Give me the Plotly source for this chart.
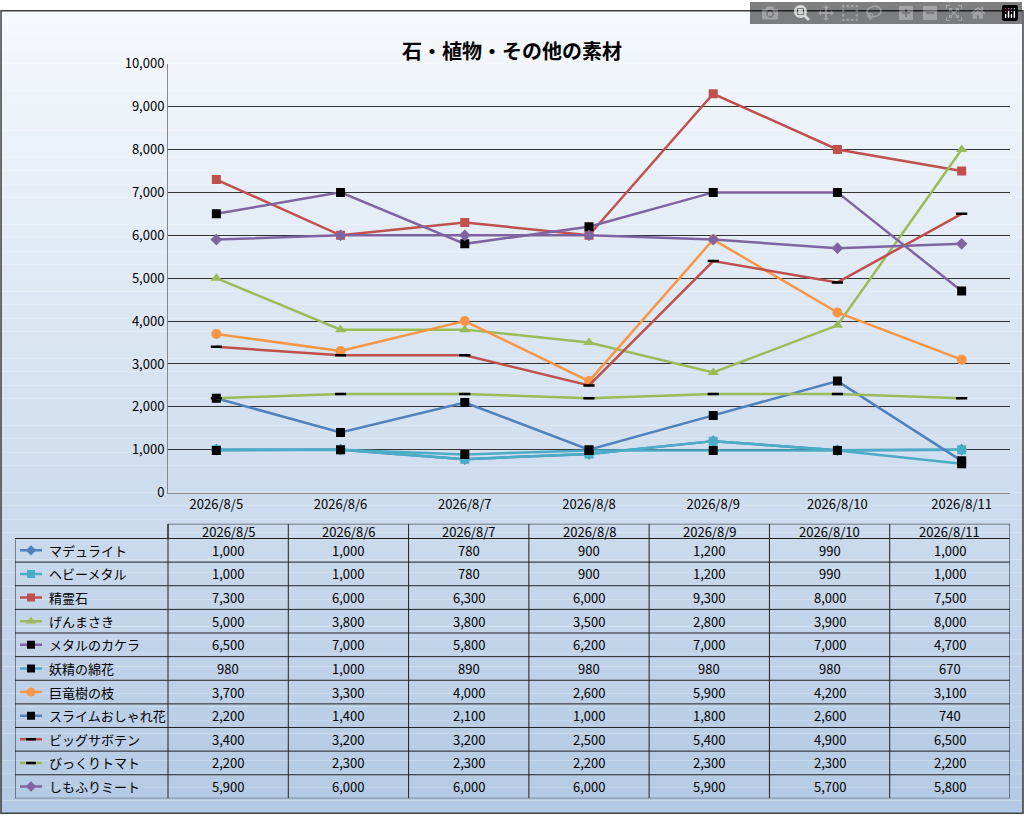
import plotly.graph_objects as go

dates = ["2026/8/5", "2026/8/6", "2026/8/7", "2026/8/8", "2026/8/9", "2026/8/10", "2026/8/11"]
names = ["マデュライト", "ヘビーメタル", "精霊石", "げんまさき", "メタルのカケラ", "妖精の綿花",
         "巨竜樹の枝", "スライムおしゃれ花", "ビッグサボテン", "びっくりトマト", "しもふりミート"]
madurite = [1000, 1000, 780, 900, 1200, 990, 1000]
heavy_metal = [1000, 1000, 780, 900, 1200, 990, 1000]
seireiseki = [7300, 6000, 6300, 6000, 9300, 8000, 7500]
genmasaki = [5000, 3800, 3800, 3500, 2800, 3900, 8000]
metal_kakera = [6500, 7000, 5800, 6200, 7000, 7000, 4700]
yousei_menka = [980, 1000, 890, 980, 980, 980, 670]
kyoryu_eda = [3700, 3300, 4000, 2600, 5900, 4200, 3100]
slime_hana = [2200, 1400, 2100, 1000, 1800, 2600, 740]
big_saboten = [3400, 3200, 3200, 2500, 5400, 4900, 6500]
bikkuri_tomato = [2200, 2300, 2300, 2200, 2300, 2300, 2200]
shimofuri = [5900, 6000, 6000, 6000, 5900, 5700, 5800]
values = [madurite, heavy_metal, seireiseki, genmasaki, metal_kakera, yousei_menka,
          kyoryu_eda, slime_hana, big_saboten, bikkuri_tomato, shimofuri]

# line colour, marker symbol, marker colour, marker size
styles = [
    ("#4F81BD", "diamond", "#4F81BD", 9),
    ("#4BACC6", "square", "#4BACC6", 9),
    ("#C0504D", "square", "#C0504D", 9),
    ("#9BBB59", "triangle-up", "#9BBB59", 10),
    ("#8064A2", "square", "#000000", 9),
    ("#4BACC6", "square", "#000000", 9),
    ("#F79646", "circle", "#F79646", 10),
    ("#4F81BD", "square", "#000000", 9),
    ("#C0504D", "line-ew", "#000000", 8),
    ("#9BBB59", "line-ew", "#000000", 8),
    ("#8064A2", "diamond", "#8064A2", 9),
]

W, H = 1024, 823
FONT = "Noto Sans CJK JP"
fig = go.Figure()

# gradient background
shapes = []
n = 60
for i in range(n):
    t = i / (n - 1)
    r = int(246 + (180 - 246) * t)
    g = int(249 + (202 - 249) * t)
    b = int(253 + (228 - 253) * t)
    shapes.append(dict(type="rect", xref="paper", yref="paper", x0=0, x1=1,
                       y0=1 - (i + 1) / n, y1=1 - i / n, line_width=0,
                       fillcolor=f"rgb({r},{g},{b})", layer="below"))
shapes.append(dict(type="rect", xref="paper", yref="paper", x0=0.001, x1=0.999,
                   y0=0.001, y1=0.999, line=dict(color="#404040", width=1.5)))

for name, vals, (lc, sym, mc, ms) in zip(names, values, styles):
    fig.add_trace(go.Scatter(
        x=dates, y=vals, name=name, mode="lines+markers",
        line=dict(color=lc, width=2.5),
        marker=dict(symbol=sym, color=mc, size=ms,
                    line=dict(color=mc, width=2.5 if sym == "line-ew" else 0)),
        showlegend=False))

# table on a pixel-unit helper axis
tx0, tx1, ty0, ty1 = 15, 1010, 526, 807
c0 = 168
cw = (tx1 - c0) / len(dates)
hh = 541
rh = (ty1 - hh) / len(names)
annos = []
tline = dict(color="#222222", width=1)
shapes.append(dict(type="rect", xref="x2", yref="y2", x0=tx0, x1=tx1, y0=hh, y1=ty1, line=tline))
shapes.append(dict(type="rect", xref="x2", yref="y2", x0=c0, x1=tx1, y0=ty0, y1=hh, line=tline))
for j in range(1, len(dates)):
    xx = c0 + j * cw
    shapes.append(dict(type="line", xref="x2", yref="y2", x0=xx, x1=xx, y0=ty0, y1=ty1, line=tline))
shapes.append(dict(type="line", xref="x2", yref="y2", x0=c0, x1=c0, y0=ty0, y1=ty1, line=tline))
for i in range(1, len(names)):
    yy = hh + i * rh
    shapes.append(dict(type="line", xref="x2", yref="y2", x0=tx0, x1=tx1, y0=yy, y1=yy, line=tline))
for j, d in enumerate(dates):
    annos.append(dict(xref="x2", yref="y2", x=c0 + (j + 0.5) * cw, y=(ty0 + hh) / 2, text=d,
                      showarrow=False, font=dict(size=13, color="#000")))
for i, (name, vals) in enumerate(zip(names, values)):
    yc = hh + (i + 0.5) * rh
    annos.append(dict(xref="x2", yref="y2", x=47, y=yc, text=name, xanchor="left",
                      showarrow=False, font=dict(size=13, color="#000")))
    for j, v in enumerate(vals):
        annos.append(dict(xref="x2", yref="y2", x=c0 + (j + 0.5) * cw, y=yc, text=f"{v:,}",
                          showarrow=False, font=dict(size=13, color="#000")))
    lc, sym, mc, ms = styles[i]
    fig.add_trace(go.Scatter(x=[20, 42], y=[yc, yc], xaxis="x2", yaxis="y2", mode="lines",
                             line=dict(color=lc, width=2.5), showlegend=False, hoverinfo="skip"))
    fig.add_trace(go.Scatter(x=[31], y=[yc], xaxis="x2", yaxis="y2", mode="markers",
                             marker=dict(symbol=sym, color=mc, size=ms - 1,
                                         line=dict(color=mc, width=2.5 if sym == "line-ew" else 0)),
                             showlegend=False, hoverinfo="skip"))

annos.append(dict(xref="paper", yref="paper", x=0.5, y=1 - 25 / H, text="<b>石・植物・その他の素材</b>",
                  showarrow=False, font=dict(size=20, color="#000")))

fig.update_layout(
    width=W, height=H, margin=dict(l=0, r=0, t=0, b=0),
    paper_bgcolor="rgba(0,0,0,0)", plot_bgcolor="white",
    font=dict(family=FONT, color="#000"),
    shapes=shapes, annotations=annos,
    xaxis=dict(domain=[168 / W, 1010 / W], type="category", showgrid=False, showline=True,
               linecolor="#888", ticks="", tickfont=dict(size=13)),
    yaxis=dict(domain=[1 - 494 / H, 1 - 55 / H], range=[0, 10000], dtick=1000, tickformat=",",
               showgrid=True, gridcolor="#333", gridwidth=1, showline=True, linecolor="#888",
               tickfont=dict(size=13), zeroline=False),
    xaxis2=dict(domain=[tx0 / W, tx1 / W], range=[tx0, tx1], visible=False, anchor="y2"),
    yaxis2=dict(domain=[1 - ty1 / H, 1 - ty0 / H], range=[ty1, ty0], visible=False, anchor="x2"),
)
fig.write_html("out.html",
               post_script="document.body.style.margin='0';document.body.style.overflow='hidden';")
